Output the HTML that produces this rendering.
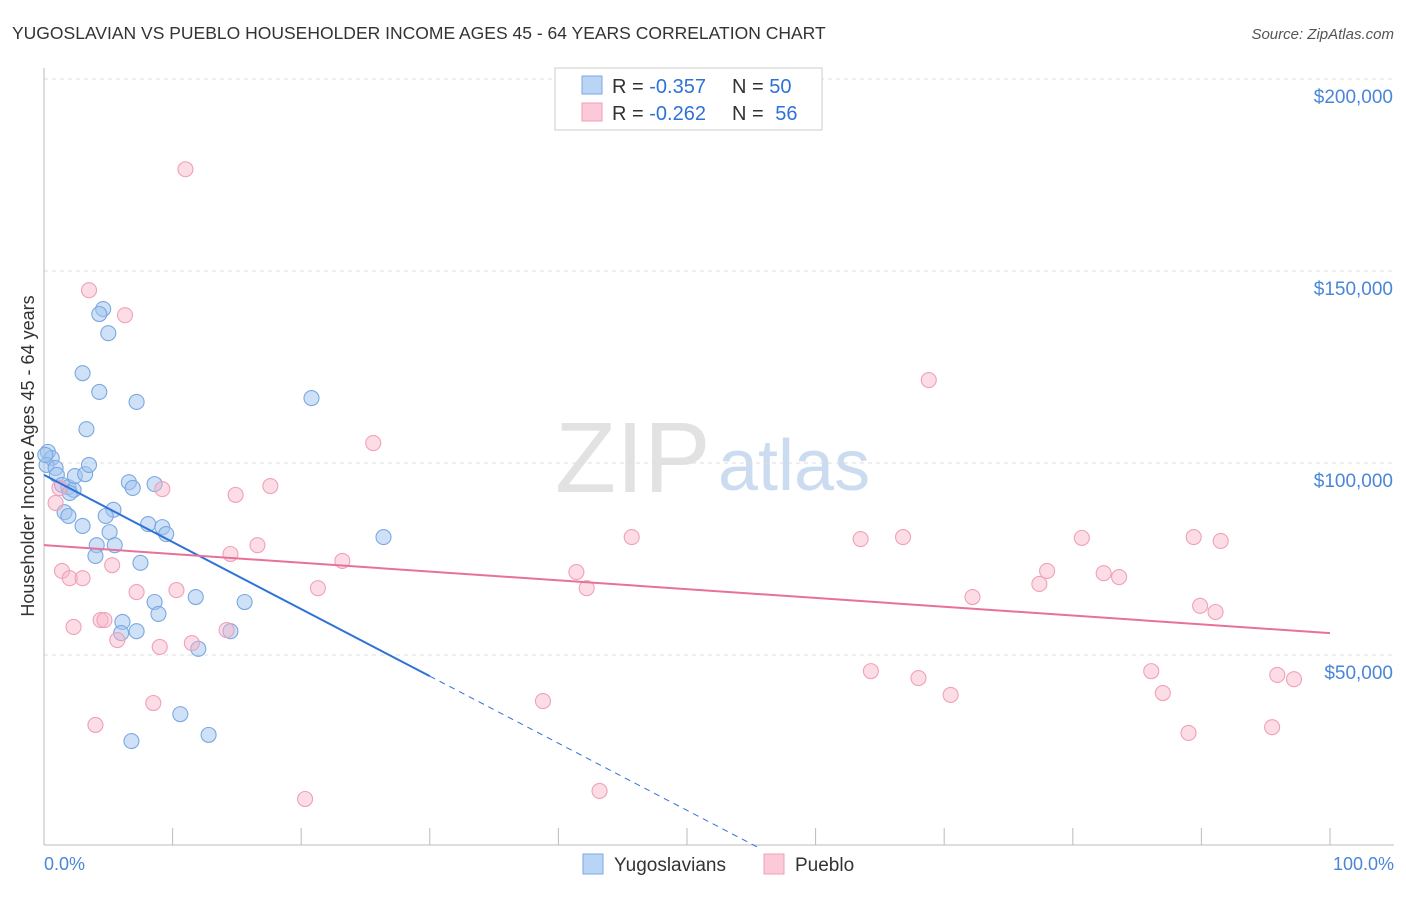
<!DOCTYPE html>
<html><head><meta charset="utf-8"><style>
body{margin:0;background:#fff;font-family:"Liberation Sans",sans-serif}
svg text{font-family:"Liberation Sans",sans-serif}
</style></head><body>
<svg id="chart" width="1406" height="892">
<text x="12" y="39" font-size="17.5" fill="#333">YUGOSLAVIAN VS PUEBLO HOUSEHOLDER INCOME AGES 45 - 64 YEARS CORRELATION CHART</text>
<text x="1394" y="39" font-size="15" fill="#555" font-style="italic" text-anchor="end">Source: ZipAtlas.com</text>
<text transform="translate(34,456) rotate(-90)" font-size="18" fill="#333" text-anchor="middle">Householder Income Ages 45 - 64 years</text>
<text x="555" y="492" font-size="100" fill="#e2e2e2" font-family="Liberation Serif">ZIP</text>
<text x="718" y="490" font-size="72" fill="#ccdcf0">atlas</text>
<g id="grid"></g><g id="marks"></g>
<g>
<rect x="555" y="68" width="267" height="62" fill="#fff" stroke="#ccc"/>
<rect x="582" y="76" width="20" height="18" fill="#b9d4f5" stroke="#7aa8e0"/>
<rect x="582" y="103" width="20" height="18" fill="#fbc9d8" stroke="#f0a0b8"/>
<text x="612" y="93" font-size="20" fill="#333">R = <tspan fill="#2f72d6">-0.357</tspan></text>
<text x="732" y="93" font-size="20" fill="#333">N = <tspan fill="#2f72d6">50</tspan></text>
<text x="612" y="120" font-size="20" fill="#333">R = <tspan fill="#2f72d6">-0.262</tspan></text>
<text x="732" y="120" font-size="20" fill="#333">N = <tspan fill="#2f72d6" dx="6">56</tspan></text>
</g>
<g>
<rect x="583" y="854" width="20" height="20" fill="#b9d4f5" stroke="#7aa8e0"/>
<text x="614" y="871" font-size="19" fill="#333">Yugoslavians</text>
<rect x="764" y="854" width="20" height="20" fill="#fbc9d8" stroke="#f0a0b8"/>
<text x="795" y="871" font-size="19" fill="#333">Pueblo</text>
</g>
<text x="44" y="870" font-size="18" fill="#4a86d8">0.0%</text>
<text x="1394" y="870" font-size="18" fill="#4a86d8" text-anchor="end">100.0%</text>
</svg>
<script>
const yTicks=[50,100,150,200];
const yTickLabels=["$50,000","$100,000","$150,000","$200,000"];
const blueX=[0.3,0.6,0.2,0.9,1.0,1.4,1.9,2.3,2.4,3.2,3.5,2.0,1.6,1.9,3.0,4.1,4.0,5.1,5.5,5.4,4.8,6.6,6.9,8.6,8.1,9.2,9.5,7.5,6.1,6.0,7.2,8.6,8.9,11.8,12.0,14.5,15.6,10.6,12.8,6.8,3.0,4.3,3.3,4.6,4.3,5.0,7.2,20.8,26.4,0.1];
const blueY=[102.9,101.3,99.5,98.7,96.9,94.3,93.7,93.0,96.6,97.1,99.5,92.2,87.2,86.2,83.6,78.6,75.8,82.0,78.6,87.8,86.2,95.0,93.5,94.5,84.1,83.3,81.5,74.0,58.6,55.7,56.2,63.8,60.7,65.1,51.6,56.2,63.8,34.6,29.2,27.6,123.4,118.5,108.8,140.1,138.8,133.8,115.9,116.9,80.7,102.1];
const pinkX=[11.0,3.5,6.3,68.8,25.6,9.2,14.9,17.6,0.9,1.2,14.5,16.6,23.2,21.3,1.4,2.0,3.0,5.3,7.2,10.3,2.3,4.4,4.7,5.7,9.0,11.5,14.2,8.5,4.0,20.3,38.8,43.2,41.4,42.2,45.7,63.5,66.8,64.3,68.0,70.5,72.2,77.4,78.0,80.7,82.4,83.6,86.1,87.0,89.0,89.4,91.5,89.9,91.1,95.9,97.2,95.5];
const pinkY=[176.5,145.0,138.5,121.6,105.2,93.2,91.7,94.0,89.6,93.5,76.3,78.6,74.5,67.4,71.9,70.0,70.0,73.4,66.4,66.9,57.3,59.1,59.1,53.9,52.1,53.1,56.5,37.5,31.8,12.5,38.0,14.6,71.6,67.4,80.7,80.2,80.7,45.8,44.0,39.6,65.1,68.5,71.9,80.5,71.3,70.3,45.8,40.1,29.7,80.7,79.7,62.8,61.2,44.8,43.7,31.2];
const blueFit=[96.9,-1.747];
const pinkFit=[78.6,-0.229];
const NS="http://www.w3.org/2000/svg";
const xs=v=>44+v*12.86, ys=v=>847-v*3.84;
function mk(t,a,p){const e=document.createElementNS(NS,t);for(const k in a)e.setAttribute(k,a[k]);p.appendChild(e);return e;}
const grid=document.getElementById('grid'),marks=document.getElementById('marks');
yTicks.forEach((t,i)=>{
 const l=mk('line',{x1:44,x2:1394,y1:ys(t),y2:ys(t),stroke:'#ddd','stroke-dasharray':'4,4'},grid);
 
 
 const tx=mk('text',{x:1393,y:ys(t)+24,'font-size':19,fill:'#4a86d8','text-anchor':'end'},grid);tx.textContent=yTickLabels[i];
 
 
});
const ax=mk('line',{x1:44,x2:44,y1:68,y2:845,stroke:'#bbb'},grid);


const bx=mk('line',{x1:44,x2:1394,y1:845,y2:845,stroke:'#bbb'},grid);


for(let i=0;i<=10;i++){const t=mk('line',{x1:xs(i*10),x2:xs(i*10),y1:828,y2:845,stroke:'#bbb'},grid);
 
 }
function pts(X,Y,fill,stroke,name){X.forEach((x,i)=>{const c=mk('circle',{cx:xs(x),cy:ys(Y[i]),r:7.5,fill:fill,stroke:stroke,'stroke-width':1.1},marks);
 
 });}
pts(blueX,blueY,'rgba(160,196,240,0.5)','#7aa8e0','yugoslavian-point');
pts(pinkX,pinkY,'rgba(248,180,200,0.45)','#f0a0b8','pueblo-point');
const f=(p,x)=>p[0]+p[1]*x;
const b1=mk('line',{x1:xs(0),y1:ys(f(blueFit,0)),x2:xs(30),y2:ys(f(blueFit,30)),stroke:'#2f72d6','stroke-width':2},marks);


const xEnd=-blueFit[0]/blueFit[1];
const b2=mk('line',{x1:xs(30),y1:ys(f(blueFit,30)),x2:xs(xEnd),y2:ys(0),stroke:'#2f72d6','stroke-width':1,'stroke-dasharray':'6,5'},marks);


const p1=mk('line',{x1:xs(0),y1:ys(f(pinkFit,0)),x2:xs(100),y2:ys(f(pinkFit,100)),stroke:'#e8719a','stroke-width':2},marks);


</script>
</body></html>
